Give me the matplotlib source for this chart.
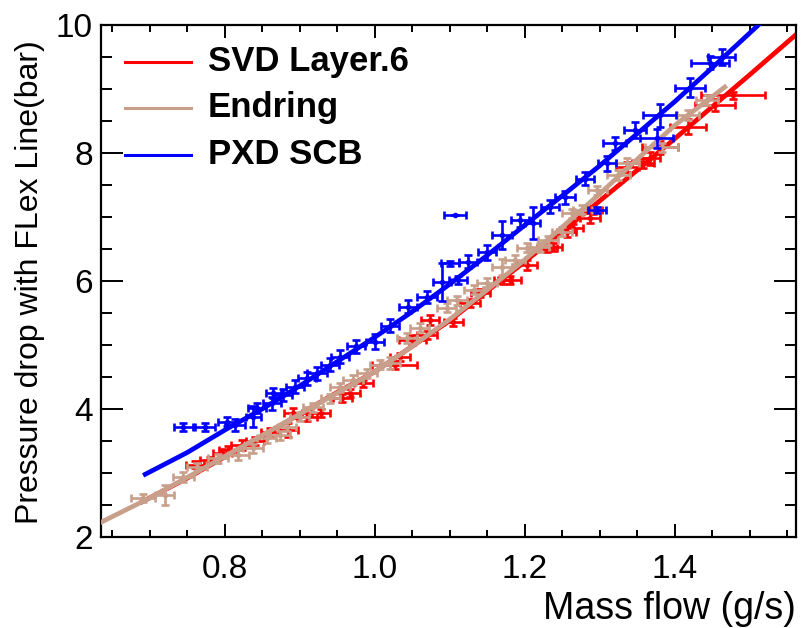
import numpy as np
import matplotlib.pyplot as plt
from matplotlib.ticker import MultipleLocator

plt.rcParams['font.family'] = ['Liberation Sans', 'DejaVu Sans']

# цвета серий
c_svd = '#ff0000'
c_end = '#c89f8a'
c_pxd = '#0000ff'

# Фитированные кривые
svd_fit_x = [0.69, 0.75, 0.80, 0.85, 0.90, 0.95, 1.00, 1.05, 1.10, 1.15, 1.20, 1.25, 1.30, 1.35, 1.40, 1.45, 1.50, 1.562]
svd_fit_y = [2.55, 2.92, 3.25, 3.58, 3.92, 4.26, 4.58, 4.98, 5.38, 5.84, 6.30, 6.77, 7.25, 7.73, 8.22, 8.72, 9.22, 9.85]

end_fit_x = [0.635, 0.70, 0.75, 0.80, 0.85, 0.90, 0.95, 1.00, 1.05, 1.10, 1.15, 1.20, 1.25, 1.30, 1.35, 1.40, 1.467]
end_fit_y = [2.23, 2.61, 2.93, 3.26, 3.59, 3.92, 4.25, 4.58, 4.98, 5.40, 5.86, 6.33, 6.84, 7.36, 7.90, 8.43, 9.03]

pxd_fit_x = [0.694, 0.75, 0.80, 0.85, 0.90, 0.95, 1.00, 1.05, 1.10, 1.15, 1.20, 1.25, 1.30, 1.35, 1.40, 1.45, 1.51, 1.53]
pxd_fit_y = [2.98, 3.32, 3.67, 4.00, 4.36, 4.74, 5.12, 5.52, 5.95, 6.40, 6.87, 7.33, 7.80, 8.30, 8.80, 9.33, 9.98, 10.2]

# Измерения: x, y, ошибка x, ошибка y
svd_x = [0.760, 0.780, 0.797, 0.805, 0.823, 0.840, 0.861, 0.885, 0.891, 0.910, 0.928, 0.957, 0.967, 0.985,
         1.027, 1.034, 1.050, 1.070, 1.074, 1.105, 1.127, 1.141, 1.171, 1.180, 1.203, 1.230, 1.238, 1.256,
         1.265, 1.287, 1.291, 1.337, 1.358, 1.367, 1.380, 1.418, 1.454, 1.478]
svd_y = [3.13, 3.20, 3.31, 3.36, 3.44, 3.50, 3.64, 3.67, 3.94, 3.88, 3.94, 4.17, 4.25, 4.40,
         4.69, 4.81, 5.08, 5.16, 5.39, 5.36, 5.66, 5.81, 6.02, 6.02, 6.25, 6.52, 6.53, 6.77,
         6.83, 6.98, 7.11, 7.78, 7.84, 7.92, 8.09, 8.41, 8.75, 8.90]
svd_xe = [0.012, 0.013, 0.013, 0.012, 0.015, 0.012, 0.013, 0.013, 0.012, 0.013, 0.012, 0.013, 0.013, 0.013,
          0.030, 0.013, 0.018, 0.013, 0.012, 0.013, 0.013, 0.013, 0.012, 0.015, 0.013, 0.013, 0.012, 0.013,
          0.013, 0.013, 0.012, 0.015, 0.015, 0.013, 0.024, 0.024, 0.027, 0.043]
svd_ye = [0.05, 0.05, 0.06, 0.06, 0.08, 0.06, 0.07, 0.11, 0.08, 0.06, 0.06, 0.06, 0.06, 0.06,
          0.06, 0.06, 0.08, 0.06, 0.08, 0.06, 0.06, 0.06, 0.06, 0.06, 0.08, 0.06, 0.06, 0.08,
          0.06, 0.08, 0.06, 0.08, 0.08, 0.10, 0.10, 0.12, 0.10, 0.06]

end_x = [0.691, 0.720, 0.745, 0.763, 0.791, 0.818, 0.838, 0.856, 0.874, 0.883, 0.900, 0.918, 0.941, 0.954,
         0.971, 0.990, 1.007, 1.021, 1.043, 1.060, 1.096, 1.110, 1.132, 1.150, 1.170, 1.187, 1.203, 1.220,
         1.231, 1.250, 1.263, 1.277, 1.297, 1.325, 1.337, 1.383, 1.418, 1.443]
end_y = [2.61, 2.66, 2.94, 3.09, 3.23, 3.28, 3.39, 3.55, 3.59, 3.72, 3.88, 4.03, 4.17, 4.34,
         4.45, 4.56, 4.69, 4.72, 5.11, 5.27, 5.58, 5.70, 5.86, 5.97, 6.22, 6.33, 6.52, 6.53,
         6.64, 6.77, 7.06, 7.11, 7.42, 7.66, 7.84, 8.09, 8.59, 8.83]
end_xe = [0.016, 0.013, 0.014, 0.013, 0.013, 0.014, 0.013, 0.013, 0.013, 0.012, 0.013, 0.013, 0.013, 0.013,
          0.013, 0.013, 0.013, 0.013, 0.013, 0.013, 0.013, 0.013, 0.013, 0.013, 0.013, 0.013, 0.013, 0.013,
          0.013, 0.013, 0.013, 0.013, 0.013, 0.015, 0.015, 0.022, 0.015, 0.015]
end_ye = [0.06, 0.16, 0.08, 0.06, 0.07, 0.08, 0.07, 0.08, 0.07, 0.07, 0.07, 0.07, 0.07, 0.07,
          0.08, 0.07, 0.07, 0.10, 0.08, 0.07, 0.07, 0.07, 0.07, 0.07, 0.12, 0.07, 0.07, 0.07,
          0.07, 0.07, 0.07, 0.07, 0.07, 0.08, 0.08, 0.07, 0.08, 0.08]

pxd_x = [0.745, 0.774, 0.803, 0.814, 0.838, 0.843, 0.863, 0.865, 0.878, 0.894, 0.910, 0.923, 0.941, 0.954,
         0.975, 1.000, 1.021, 1.045, 1.070, 1.090, 1.100, 1.107, 1.111, 1.125, 1.150, 1.170, 1.194, 1.211,
         1.234, 1.254, 1.280, 1.297, 1.310, 1.320, 1.347, 1.376, 1.380, 1.420, 1.447, 1.463]
pxd_y = [3.72, 3.72, 3.80, 3.75, 3.88, 4.02, 4.09, 4.25, 4.22, 4.35, 4.48, 4.56, 4.69, 4.82,
         4.98, 5.05, 5.30, 5.60, 5.75, 5.98, 6.28, 7.03, 6.02, 6.30, 6.45, 6.72, 6.95, 6.90,
         7.16, 7.31, 7.60, 7.11, 7.84, 8.15, 8.36, 8.23, 8.59, 9.02, 9.41, 9.50]
pxd_xe = [0.013, 0.013, 0.012, 0.013, 0.010, 0.012, 0.012, 0.010, 0.012, 0.012, 0.012, 0.013, 0.012, 0.012,
          0.012, 0.012, 0.012, 0.012, 0.013, 0.012, 0.012, 0.015, 0.012, 0.012, 0.012, 0.013, 0.012, 0.010,
          0.012, 0.013, 0.012, 0.012, 0.012, 0.015, 0.015, 0.022, 0.022, 0.020, 0.025, 0.018]
pxd_ye = [0.06, 0.06, 0.07, 0.10, 0.16, 0.08, 0.10, 0.08, 0.10, 0.10, 0.10, 0.10, 0.10, 0.10,
          0.10, 0.12, 0.10, 0.10, 0.10, 0.30, 0.04, 0.0, 0.06, 0.10, 0.12, 0.22, 0.10, 0.25,
          0.10, 0.10, 0.10, 0.05, 0.12, 0.10, 0.12, 0.15, 0.18, 0.15, 0.10, 0.12]

labels = ['SVD Layer.6', 'Endring', 'PXD SCB']

fig = plt.figure(figsize=(8.02, 6.28), dpi=100)
ax = fig.add_axes([101 / 802, 1 - 537 / 628, 695 / 802, 512 / 628])

eb = dict(fmt='o', ms=3, elinewidth=1.9, capsize=2.8, capthick=1.9, lw=0)

ax.plot(svd_fit_x, svd_fit_y, color=c_svd, lw=3.4, zorder=2)
ax.errorbar(svd_x, svd_y, xerr=svd_xe, yerr=svd_ye, color=c_svd, zorder=3, **eb)
ax.plot(end_fit_x, end_fit_y, color=c_end, lw=3.4, zorder=4)
ax.errorbar(end_x, end_y, xerr=end_xe, yerr=end_ye, color=c_end, zorder=5, **eb)
ax.plot(pxd_fit_x, pxd_fit_y, color=c_pxd, lw=3.4, zorder=6)
ax.errorbar(pxd_x, pxd_y, xerr=pxd_xe, yerr=pxd_ye, color=c_pxd, zorder=7, **eb)

ax.set_xlim(0.635, 1.562)
ax.set_ylim(2, 10)

ax.xaxis.set_major_locator(MultipleLocator(0.2))
ax.xaxis.set_minor_locator(MultipleLocator(0.05))
ax.yaxis.set_major_locator(MultipleLocator(2))
ax.yaxis.set_minor_locator(MultipleLocator(0.5))
ax.xaxis.set_major_formatter(lambda v, p: f'{v:.1f}')
ax.yaxis.set_major_formatter(lambda v, p: f'{v:.0f}')

ax.tick_params(axis='both', which='both', direction='in', top=True, right=True, width=1.4, labelsize=24)
ax.tick_params(axis='x', which='major', length=9.5, pad=12)
ax.tick_params(axis='x', which='minor', length=5)
ax.tick_params(axis='y', which='major', length=16, pad=6)
ax.tick_params(axis='y', which='minor', length=8)
for s in ax.spines.values():
    s.set_linewidth(1.6)

# легенда вручную
cols = [c_svd, c_end, c_pxd]
rows_y = [62, 108, 155]
for lab, col, py in zip(labels, cols, rows_y):
    yy = (537 - py) / 512
    ax.plot([(125 - 101) / 695, (191 - 101) / 695], [yy, yy], color=col, lw=2.2,
            transform=ax.transAxes, clip_on=False, zorder=10)
    ax.text((208 - 101) / 695, yy, lab, transform=ax.transAxes, fontsize=25,
            fontweight='bold', va='center', ha='left', zorder=10)

fig.text(796 / 802, 1 - 619 / 628, 'Mass flow (g/s)', ha='right', va='baseline', fontsize=27)
fig.text(30 / 802, 1 - 40 / 628, 'Pressure drop with FLex Line(bar)', rotation=90,
         ha='center', va='top', fontsize=23)

fig.savefig('out.png', dpi=100)
